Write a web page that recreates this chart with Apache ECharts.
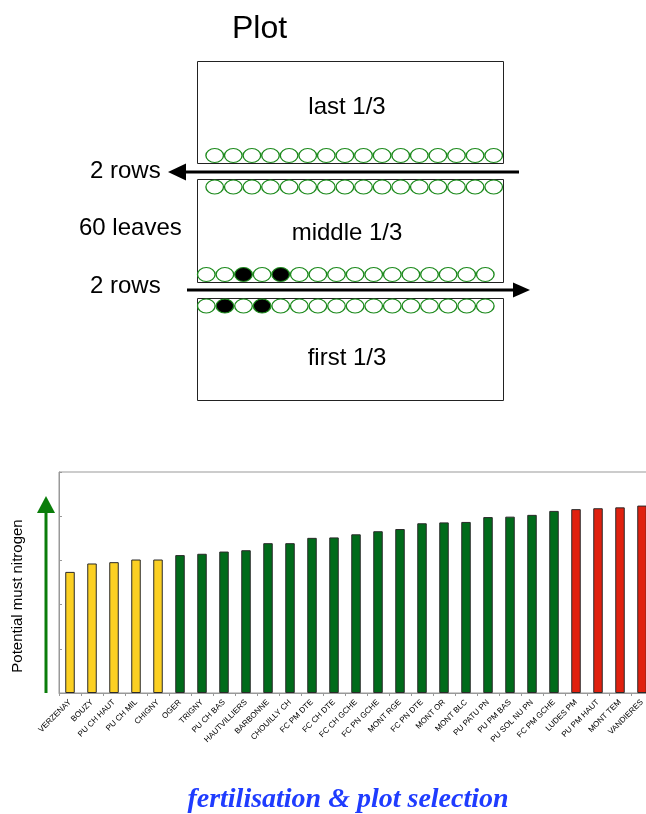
<!DOCTYPE html>
<html>
<head>
<meta charset="utf-8">
<script src="https://cdn.jsdelivr.net/npm/echarts@6/dist/echarts.min.js"></script>
<style>
	html, body {margin: 0; padding: 0; background: #fff;}
	#chart {width: 646px; height: 814px;}
</style>
</head>
<body>
<div id="chart"></div>
<script>
// vineyards, sorted by potential must nitrogen
var categories = ['VERZENAY', 'BOUZY', 'PU CH HAUT', 'PU CH MIL', 'CHIGNY', 'OGER', 'TRIGNY',
	'PU CH BAS', 'HAUTVILLIERS', 'BARBONNE', 'CHOUILLY CH', 'FC PM DTE', 'FC CH DTE', 'FC CH GCHE',
	'FC PN GCHE', 'MONT RGE', 'FC PN DTE', 'MONT OR', 'MONT BLC', 'PU PATU PN', 'PU PM BAS',
	'PU SOL NU PN', 'FC PM GCHE', 'LUDES PM', 'PU PM HAUT', 'MONT TEM', 'VANDIERES'];
var nitrogen = [2.74, 2.93, 2.96, 3.02, 3.02, 3.12, 3.15, 3.20, 3.23, 3.39, 3.39, 3.51, 3.52, 3.59,
	3.66, 3.71, 3.84, 3.86, 3.87, 3.98, 3.99, 4.03, 4.12, 4.16, 4.18, 4.20, 4.24];
var levels = ['low', 'low', 'low', 'low', 'low',
	'mid', 'mid', 'mid', 'mid', 'mid', 'mid', 'mid', 'mid', 'mid', 'mid', 'mid', 'mid',
	'mid', 'mid', 'mid', 'mid', 'mid', 'mid',
	'high', 'high', 'high', 'high'];
var yTicks = [0, 1, 2, 3, 4, 5];

// plot sketch: leaves per row, sampled leaves (1-based, from the row start)
var leavesPerRow = 16;
var sampledMiddle = [3, 5];
var sampledFirst = [2, 4];

var palette = {low: '#fbd023', mid: '#006b1a', high: '#e0200e'};

var chart = echarts.init(document.getElementById('chart'));

// sketch layout (px)
var LEAF_W = 18.6;
var BOX_L = 197, BOX_W = 306;
var leafMax = BOX_W / LEAF_W;
var rowLayout = [
	{y: 155.5, fromRight: true, sampled: []},
	{y: 187, fromRight: true, sampled: []},
	{y: 274.5, fromRight: false, sampled: sampledMiddle},
	{y: 306, fromRight: false, sampled: sampledFirst}
];
var leafData = [];
rowLayout.forEach(function (row) {
	for (var i = 0; i < leavesPerRow; i++) {
		var x = row.fromRight ? leafMax - (i + 0.5) : i + 0.5;
		leafData.push({
			value: [x, row.y],
			itemStyle: {color: row.sampled.indexOf(i + 1) >= 0 ? '#000' : '#fff'}
		});
	}
});

var sansFont = '"Liberation Sans", Arial, sans-serif';
function label(text, x, y, size, align) {
	return {
		type: 'text', x: x, y: y, z: 10,
		style: {text: text, fill: '#000', font: size + 'px ' + sansFont,
			textAlign: align || 'center', textVerticalAlign: 'middle'}
	};
}
function box(top, bottom) {
	return {
		type: 'rect', z: 1,
		shape: {x: BOX_L + 0.5, y: top + 0.5, width: BOX_W, height: bottom - top},
		style: {fill: 'none', stroke: '#222', lineWidth: 1}
	};
}

var option = {
	animation: false,
	backgroundColor: '#fff',
	grid: [{
		left: 59,
		top: 472,
		width: 594,
		height: 221,
		outerBoundsMode: 'none',
		containLabel: false,
		show: true,
		borderColor: '#999',
		borderWidth: 1
	}, {
		left: BOX_L,
		top: 0,
		width: BOX_W,
		height: 420,
		outerBoundsMode: 'none'
	}],
	xAxis: [{
		type: 'category',
		data: categories,
		gridIndex: 0,
		axisLine: {lineStyle: {color: '#999'}},
		axisTick: {show: true, length: 3, lineStyle: {color: '#999'}},
		axisLabel: {
			rotate: 45,
			interval: 0,
			margin: 8,
			fontSize: 8,
			fontFamily: sansFont,
			color: '#000'
		}
	}, {
		type: 'value',
		gridIndex: 1,
		min: 0,
		max: leafMax,
		show: false
	}],
	yAxis: [{
		type: 'value',
		gridIndex: 0,
		min: yTicks[0],
		max: yTicks[yTicks.length - 1],
		interval: 1,
		axisLine: {show: true, lineStyle: {color: '#999'}},
		axisTick: {show: true, inside: true, length: 3, lineStyle: {color: '#999'}},
		axisLabel: {show: false},
		splitLine: {show: false}
	}, {
		type: 'value',
		gridIndex: 1,
		min: 0,
		max: 420,
		inverse: true,
		show: false
	}],
	series: [{
		name: 'Potential must nitrogen',
		type: 'bar',
		xAxisIndex: 0,
		yAxisIndex: 0,
		barWidth: 9.5,
		itemStyle: {borderColor: '#2a2a2a', borderWidth: 1},
		data: nitrogen.map(function (v, i) {
			return {value: v, itemStyle: {color: palette[levels[i]]}};
		})
	}, {
		name: 'leaves',
		type: 'scatter',
		xAxisIndex: 1,
		yAxisIndex: 1,
		symbol: 'circle',
		symbolSize: [17.6, 14],
		itemStyle: {borderColor: '#1c8a1c', borderWidth: 1.2, opacity: 1},
		emphasis: {disabled: true},
		data: leafData
	}],
	graphic: [
		{type: 'text', x: 232, y: 29, z: 10,
			style: {text: 'Plot', fill: '#000', font: '32px ' + sansFont, textAlign: 'left', textVerticalAlign: 'middle'}},
		box(61, 163),
		box(179, 282),
		box(298, 400),
		label('last 1/3', 347, 107, 24),
		label('middle 1/3', 347, 233, 24),
		label('first 1/3', 347, 358, 24),
		label('2 rows', 90, 171, 24, 'left'),
		label('60 leaves', 79, 228, 24, 'left'),
		label('2 rows', 90, 286, 24, 'left'),
		// row arrows
		{type: 'line', z: 5, shape: {x1: 519, y1: 172, x2: 184, y2: 172}, style: {stroke: '#000', lineWidth: 3}},
		{type: 'polygon', z: 5, shape: {points: [[168, 172], [186, 163.5], [186, 180.5]]}, style: {fill: '#000'}},
		{type: 'line', z: 5, shape: {x1: 187, y1: 290, x2: 515, y2: 290}, style: {stroke: '#000', lineWidth: 3}},
		{type: 'polygon', z: 5, shape: {points: [[530, 290], [513, 282.5], [513, 297.5]]}, style: {fill: '#000'}},
		// y axis title with green arrow
		{type: 'text', x: 18, y: 596, rotation: Math.PI / 2, z: 10,
			style: {text: 'Potential must nitrogen', fill: '#000', font: '15px ' + sansFont,
				textAlign: 'center', textVerticalAlign: 'middle'}},
		{type: 'line', z: 5, shape: {x1: 46, y1: 693, x2: 46, y2: 510}, style: {stroke: '#0a7d0a', lineWidth: 3}},
		{type: 'polygon', z: 5, shape: {points: [[46, 496], [37, 513], [55, 513]]}, style: {fill: '#0a7d0a'}},
		// footer
		{type: 'text', x: 348, y: 800, z: 10,
			style: {text: 'fertilisation & plot selection', fill: '#1f3cff',
				font: 'italic bold 28px "Liberation Serif", "Times New Roman", serif',
				textAlign: 'center', textVerticalAlign: 'middle'}}
	]
};

chart.setOption(option);
</script>
</body>
</html>
